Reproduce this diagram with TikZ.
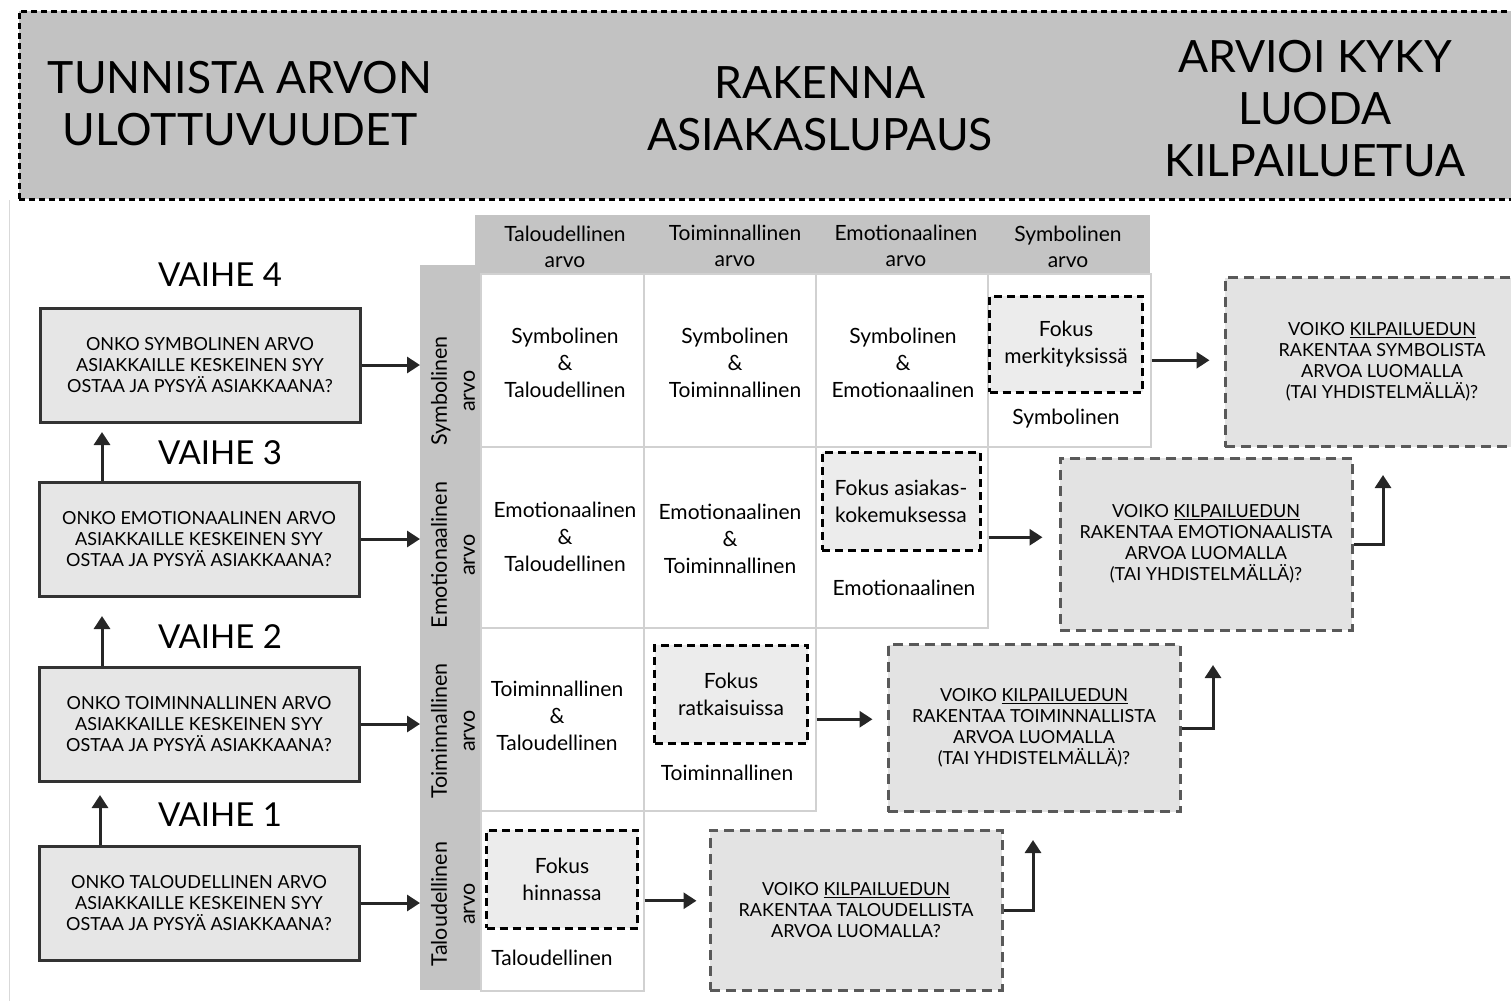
\documentclass[tikz,border=0pt]{standalone}
\usepackage{fontspec}
\setmainfont{Lato}
\usetikzlibrary{arrows.meta}

\definecolor{headgray}{HTML}{C2C2C2}
\definecolor{bandgray}{HTML}{C4C4C4}
\definecolor{stagegray}{HTML}{E6E6E6}
\definecolor{askgray}{HTML}{E3E3E3}
\definecolor{focusgray}{HTML}{ECECEC}

\begin{document}
\begin{tikzpicture}[x=1pt,y=-1pt]
    \tikzstyle{headtxt}=[align=center, font=\fontsize{44.5}{52}\selectfont];
    \tikzstyle{vaihe}=[font=\fontsize{33}{40}\selectfont];
    \tikzstyle{stagebox}=[draw=black!80, line width=3pt, fill=stagegray, minimum width=320pt, minimum height=114pt, inner sep=0, align=center, font=\fontsize{18}{21}\selectfont];
    \tikzstyle{band}=[fill=bandgray, inner sep=0, anchor=north west];
    \tikzstyle{colhead}=[align=center, font=\fontsize{21}{26}\selectfont];
    \tikzstyle{rowhead}=[align=center, rotate=90, font=\fontsize{21.5}{28}\selectfont];
    \tikzstyle{cell}=[draw=black!18, line width=1.5pt, fill=white, inner sep=0, anchor=north west];
    \tikzstyle{celltxt}=[align=center, font=\fontsize{21}{27}\selectfont];
    \tikzstyle{focus}=[draw, line width=3pt, dash pattern=on 8pt off 5pt, fill=focusgray, inner sep=0, align=center, font=\fontsize{21}{27}\selectfont];
    \tikzstyle{askbox}=[draw=black!65, line width=3pt, dash pattern=on 10pt off 6pt, fill=askgray, inner sep=0, align=center, font=\fontsize{18}{21}\selectfont];
    \tikzstyle{arr}=[line width=3pt, draw=black!85, -{Triangle[length=13pt,width=16pt]}];

    \useasboundingbox (0,0) rectangle (1511,1001);
    \draw[black!15, line width=1pt] (9,200) -- (9,1001);

    % header
    \node[draw, line width=2.5pt, dash pattern=on 6pt off 4pt, fill=headgray, minimum width=1510pt, minimum height=188pt, inner sep=0, anchor=north west] (head) at (18,10) {};
    \node[headtxt] (tunnista) at (240,104) {TUNNISTA ARVON\\ULOTTUVUUDET};
    \node[headtxt] (rakenna) at (820,109) {RAKENNA\\ASIAKASLUPAUS};
    \node[headtxt] (arvioi) at (1315,109) {ARVIOI KYKY\\LUODA\\KILPAILUETUA};

    % stages
    \node[vaihe] (v4) at (220,275) {VAIHE 4};
    \node[stagebox] (st4) at (200,365) {ONKO SYMBOLINEN ARVO\\ASIAKKAILLE KESKEINEN SYY\\OSTAA JA PYSYÄ ASIAKKAANA?};
    \node[vaihe] (v3) at (220,453) {VAIHE 3};
    \node[stagebox] (st3) at (199,539) {ONKO EMOTIONAALINEN ARVO\\ASIAKKAILLE KESKEINEN SYY\\OSTAA JA PYSYÄ ASIAKKAANA?};
    \node[vaihe] (v2) at (220,637) {VAIHE 2};
    \node[stagebox] (st2) at (199,724) {ONKO TOIMINNALLINEN ARVO\\ASIAKKAILLE KESKEINEN SYY\\OSTAA JA PYSYÄ ASIAKKAANA?};
    \node[vaihe] (v1) at (220,815) {VAIHE 1};
    \node[stagebox] (st1) at (199,903) {ONKO TALOUDELLINEN ARVO\\ASIAKKAILLE KESKEINEN SYY\\OSTAA JA PYSYÄ ASIAKKAANA?};

    % matrix bands
    \node[band, minimum width=60pt, minimum height=725pt] (rowband) at (420,265) {};
    \node[band, minimum width=675pt, minimum height=58pt] (colband) at (475,215) {};
    \node[colhead] (h1) at (565,247) {Taloudellinen\\arvo};
    \node[colhead] (h2) at (735,246) {Toiminnallinen\\arvo};
    \node[colhead] (h3) at (906,246) {Emotionaalinen\\arvo};
    \node[colhead] (h4) at (1068,247) {Symbolinen\\arvo};
    \node[rowhead] (r4) at (453,391) {Symbolinen\\arvo};
    \node[rowhead] (r3) at (453,555) {Emotionaalinen\\arvo};
    \node[rowhead] (r2) at (453,731) {Toiminnallinen\\arvo};
    \node[rowhead] (r1) at (453,904) {Taloudellinen\\arvo};

    % cells
    \node[cell, minimum width=163pt, minimum height=173pt] (s1) at (480,273) {};
    \node[cell, minimum width=172pt, minimum height=173pt] (s2) at (643,273) {};
    \node[cell, minimum width=172pt, minimum height=173pt] (s3) at (815,273) {};
    \node[cell, minimum width=163pt, minimum height=173pt] (s4) at (987,273) {};
    \node[cell, minimum width=163pt, minimum height=181pt] (e1) at (480,446) {};
    \node[cell, minimum width=172pt, minimum height=181pt] (e2) at (643,446) {};
    \node[cell, minimum width=172pt, minimum height=181pt] (e3) at (815,446) {};
    \node[cell, minimum width=163pt, minimum height=183pt] (t1) at (480,627) {};
    \node[cell, minimum width=172pt, minimum height=183pt] (t2) at (643,627) {};
    \node[cell, minimum width=163pt, minimum height=180pt] (l1) at (480,810) {};

    \node[celltxt] (s1txt) at (565,363) {Symbolinen\\\&\\Taloudellinen};
    \node[celltxt] (s2txt) at (735,363) {Symbolinen\\\&\\Toiminnallinen};
    \node[celltxt] (s3txt) at (903,363) {Symbolinen\\\&\\Emotionaalinen};
    \node[celltxt] (e1txt) at (565,537) {Emotionaalinen\\\&\\Taloudellinen};
    \node[celltxt] (e2txt) at (730,539) {Emotionaalinen\\\&\\Toiminnallinen};
    \node[celltxt] (t1txt) at (557,716) {Toiminnallinen\\\&\\Taloudellinen};

    % focus cells
    \node[focus, minimum width=153pt, minimum height=96pt] (fs) at (1066,344) {Fokus\\merkityksissä};
    \node[celltxt] (fslbl) at (1066,419) {Symbolinen};
    \node[focus, minimum width=158pt, minimum height=98pt] (fe) at (901,501) {Fokus asiakas-\\kokemuksessa};
    \node[celltxt] (felbl) at (904,588) {Emotionaalinen};
    \node[focus, minimum width=153pt, minimum height=98pt] (ft) at (731,694) {Fokus\\ratkaisuissa};
    \node[celltxt] (ftlbl) at (727,773) {Toiminnallinen};
    \node[focus, minimum width=151pt, minimum height=98pt] (fl) at (562,879) {Fokus\\hinnassa};
    \node[celltxt] (fllbl) at (552,958) {Taloudellinen};

    % questions
    \node[askbox, minimum width=314pt, minimum height=169pt] (vs) at (1382,362) {VOIKO \underline{KILPAILUEDUN}\\RAKENTAA SYMBOLISTA\\ARVOA LUOMALLA\\(TAI YHDISTELMÄLLÄ)?};
    \node[askbox, minimum width=292pt, minimum height=172pt] (ve) at (1206,544) {VOIKO \underline{KILPAILUEDUN}\\RAKENTAA EMOTIONAALISTA\\ARVOA LUOMALLA\\(TAI YHDISTELMÄLLÄ)?};
    \node[askbox, minimum width=292pt, minimum height=167pt] (vt) at (1034,728) {VOIKO \underline{KILPAILUEDUN}\\RAKENTAA TOIMINNALLISTA\\ARVOA LUOMALLA\\(TAI YHDISTELMÄLLÄ)?};
    \node[askbox, minimum width=292pt, minimum height=160pt] (vl) at (856,910) {VOIKO \underline{KILPAILUEDUN}\\RAKENTAA TALOUDELLISTA\\ARVOA LUOMALLA?};

    \coordinate (up3) at (102,432);
    \coordinate (up2) at (102,616);
    \coordinate (up1) at (100,795);
    \coordinate (upE) at (1383,475);
    \coordinate (upT) at (1213,665);
    \coordinate (upL) at (1033,840);

    \draw[arr] (st4) -- (st4 -| rowband.west);
    \draw[arr] (st3) -- (st3 -| rowband.west);
    \draw[arr] (st2) -- (st2 -| rowband.west);
    \draw[arr] (st1) -- (st1 -| rowband.west);
    \draw[arr] (st3.north -| up3) -- (up3);
    \draw[arr] (st2.north -| up2) -- (up2);
    \draw[arr] (st1.north -| up1) -- (up1);

    \draw[arr, shorten >=14pt] (s4.east) -- (s4.east -| vs.west);
    \draw[arr, shorten >=16pt] (e3.east) -- (e3.east -| ve.west);
    \draw[arr, shorten >=14pt] (t2.east) -- (t2.east -| vt.west);
    \draw[arr, shorten >=12pt] (l1.east) -- (l1.east -| vl.west);
    \draw[arr] (ve.east) -| (upE);
    \draw[arr] (vt.east) -| (upT);
    \draw[arr] (vl.east) -| (upL);
\end{tikzpicture}
\end{document}
